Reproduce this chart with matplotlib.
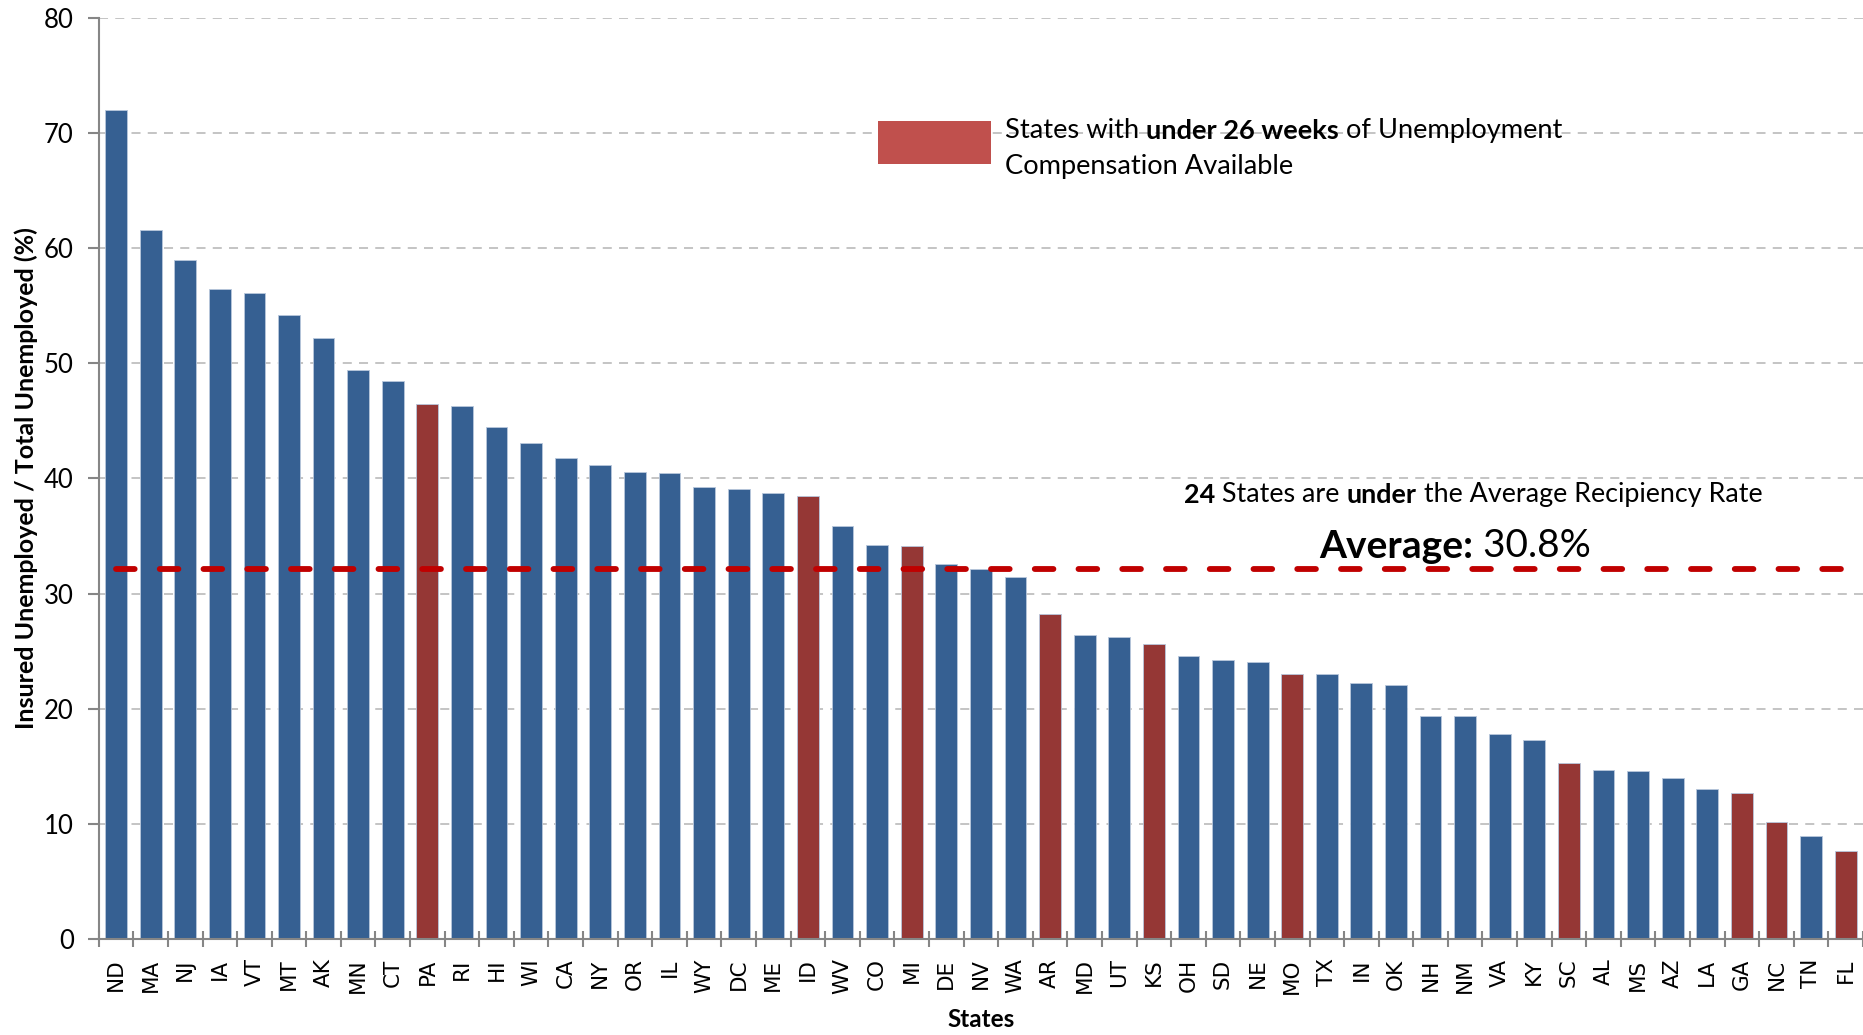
import matplotlib
matplotlib.use("Agg")
import matplotlib.pyplot as plt
from matplotlib.patches import Rectangle

# data
states = ["ND", "MA", "NJ", "IA", "VT", "MT", "AK", "MN", "CT", "PA",
          "RI", "HI", "WI", "CA", "NY", "OR", "IL", "WY", "DC", "ME",
          "ID", "WV", "CO", "MI", "DE", "NV", "WA", "AR", "MD", "UT",
          "KS", "OH", "SD", "NE", "MO", "TX", "IN", "OK", "NH", "NM",
          "VA", "KY", "SC", "AL", "MS", "AZ", "LA", "GA", "NC", "TN", "FL"]
rates = [72.0, 61.6, 59.0, 56.5, 56.1, 54.2, 52.2, 49.4, 48.5, 46.5,
         46.3, 44.5, 43.1, 41.8, 41.2, 40.6, 40.5, 39.3, 39.1, 38.7,
         38.5, 35.9, 34.2, 34.1, 32.6, 32.1, 31.4, 28.2, 26.4, 26.2,
         25.6, 24.6, 24.2, 24.1, 23.0, 23.0, 22.2, 22.1, 19.4, 19.4,
         17.8, 17.3, 15.3, 14.7, 14.6, 14.0, 13.0, 12.7, 10.2, 8.9, 7.6]
short_weeks = ["PA", "ID", "MI", "AR", "KS", "MO", "SC", "GA", "NC", "FL"]
avg_line = 32.1

blue = "#366092"
red = "#953735"

fig = plt.figure(figsize=(18.63, 10.35), dpi=100)
ax = fig.add_axes([0.053, 0.0928, 0.947, 0.8898])

x = list(range(len(states)))
colors = [red if s in short_weeks else blue for s in states]
ax.bar(x, rates, width=0.63, color=colors, edgecolor="#b8c7dc", linewidth=0.6, zorder=2)

# average line
ax.plot([x[0], x[-1]], [avg_line, avg_line], color="#c00000", lw=4.2,
        dashes=(3.2, 4.3), solid_capstyle="round", dash_capstyle="round", zorder=3)

ax.set_xlim(-0.5, len(states) - 0.5)
ax.set_ylim(0, 80)
ax.set_yticks(range(0, 81, 10))
ax.yaxis.grid(True, color="#bfbfbf", linestyle=(0, (5, 4)), lw=1.3, zorder=0)
ax.set_axisbelow(True)

ax.set_xticks(x)
ax.set_xticklabels(states, rotation=90, fontsize=15.5, family="DejaVu Sans")
ax.tick_params(axis="x", which="major", length=0, pad=14)
ax.set_xticks([i + 0.5 for i in range(-1, len(states))], minor=True)
ax.tick_params(axis="x", which="minor", direction="inout", length=12, width=1.5, color="#868686")
ax.tick_params(axis="y", length=8, width=1.5, color="#868686", pad=10)
for lab in ax.get_yticklabels():
    lab.set_family("Lato")
    lab.set_fontsize(18.5)

for side in ["top", "right"]:
    ax.spines[side].set_visible(False)
for side in ["left", "bottom"]:
    ax.spines[side].set_color("#868686")
    ax.spines[side].set_linewidth(1.5)

ax.set_ylabel("Insured Unemployed / Total Unemployed (%)", fontsize=18, fontweight="bold",
              family="Lato", labelpad=4)
ax.set_xlabel("States", fontsize=17.5, fontweight="bold", family="Lato", labelpad=10)

# legend-like box
ax.add_patch(Rectangle((0.4417, 0.8418), 0.0641, 0.0467, transform=ax.transAxes,
                       facecolor="#c0504d", edgecolor="none", clip_on=False, zorder=4))
t1 = ax.text(0.5137, 0.878, "States with ", transform=ax.transAxes, fontsize=19.6,
             family="Lato", va="center", ha="left")
t2 = ax.annotate("under 26 weeks", xy=(1, 0), xycoords=t1, fontsize=19.6, family="Lato",
                 fontweight="bold", va="bottom", ha="left")
ax.annotate(" of Unemployment", xy=(1, 0), xycoords=t2, fontsize=19.6, family="Lato",
            va="bottom", ha="left")
ax.text(0.5137, 0.839, "Compensation Available", transform=ax.transAxes, fontsize=19.6,
        family="Lato", va="center", ha="left")

# annotation on the average
a1 = ax.text(0.6152, 0.4825, "24", transform=ax.transAxes, fontsize=19.4, family="Lato",
             fontweight="bold", va="center", ha="left")
a2 = ax.annotate(" States are ", xy=(1, 0), xycoords=a1, fontsize=19.4, family="Lato",
                 va="bottom", ha="left")
a3 = ax.annotate("under", xy=(1, 0), xycoords=a2, fontsize=19.4, family="Lato",
                 fontweight="bold", va="bottom", ha="left")
ax.annotate(" the Average Recipiency Rate", xy=(1, 0), xycoords=a3, fontsize=19.4,
            family="Lato", va="bottom", ha="left")

b1 = ax.text(0.6917, 0.426, "Average:", transform=ax.transAxes, fontsize=28, family="Lato",
             fontweight="bold", va="center", ha="left")
ax.annotate(" 30.8%", xy=(1, 0), xycoords=b1, fontsize=28, family="Lato",
            va="bottom", ha="left")

fig.savefig("out.png", dpi=100)
